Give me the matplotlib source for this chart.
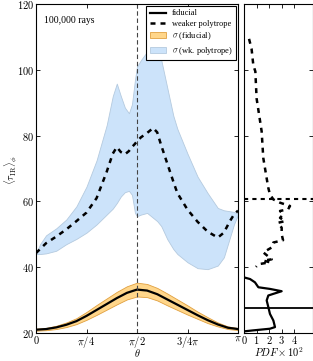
import numpy as np
import matplotlib
matplotlib.use("Agg")
import matplotlib.pyplot as plt
from matplotlib.patches import Patch
from matplotlib.lines import Line2D

plt.rcParams['font.family'] = 'serif'
plt.rcParams['font.serif'] = ['Liberation Serif', 'DejaVu Serif']
plt.rcParams['mathtext.fontset'] = 'cm'

# theta in units of pi
th_fid = [0, 0.05, 0.1, 0.15, 0.2, 0.25, 0.3, 0.35, 0.4, 0.45, 0.5,
          0.55, 0.6, 0.65, 0.7, 0.75, 0.8, 0.85, 0.9, 0.95, 1.0]
fid_mean = [21.0, 21.2, 21.7, 22.5, 23.6, 25.2, 27.0, 28.8, 30.6, 32.2, 33.2,
            32.9, 31.8, 30.2, 28.6, 27.0, 25.4, 23.9, 22.6, 21.6, 21.2]
fid_sig = [0.3, 0.35, 0.5, 0.7, 0.9, 1.2, 1.5, 1.7, 1.9, 2.0, 2.1,
           2.0, 1.9, 1.8, 1.6, 1.4, 1.1, 0.9, 0.6, 0.4, 0.3]

th_wk = [0, 0.02, 0.05, 0.1, 0.15, 0.2, 0.25, 0.3, 0.35, 0.38, 0.4, 0.42, 0.44,
         0.46, 0.475, 0.49, 0.5, 0.52, 0.55, 0.58, 0.6, 0.62, 0.65, 0.68, 0.7,
         0.75, 0.8, 0.85, 0.9, 0.93, 0.96, 0.98, 1.0]
wk_mean = [44.3, 45.5, 47.3, 49.3, 51.5, 54.0, 56.6, 61.0, 69.0, 74.5, 76.5, 75.0, 74.3,
           75.3, 76.5, 77.5, 78.3, 79.5, 80.8, 82.3, 81.0, 77.0, 71.5, 66.0, 62.5,
           57.5, 53.8, 50.8, 49.0, 50.5, 54.0, 56.0, 57.2]
wk_hi = [44.0, 47.0, 49.7, 51.8, 54.5, 58.5, 64.5, 72.5, 83.2, 92.0, 95.8, 92.0, 88.5,
         86.8, 89.5, 97.0, 101.0, 103.0, 105.5, 107.5, 107.0, 103.0, 94.5, 86.0, 82.0,
         74.5, 67.5, 62.5, 58.0, 57.3, 57.0, 56.8, 56.3]
wk_lo = [44.0, 44.0, 44.2, 45.0, 47.0, 48.6, 50.5, 53.0, 56.0, 57.8, 59.5, 61.5, 62.8,
         63.2, 62.0, 56.5, 55.5, 56.0, 56.5, 55.0, 54.0, 52.5, 48.5, 45.5, 44.0,
         41.5, 39.7, 39.4, 40.5, 43.0, 49.0, 53.0, 56.0]

# PDFs (x 10^2) against tau
pdf_fid_tau = [36.9, 36.4, 35.4, 33.9, 33.4, 32.7, 31.9, 31.4, 29.9, 27.9, 25.8,
               23.8, 21.8, 21.3, 20.8, 20.5]
pdf_fid = [0, 0.48, 0.87, 1.14, 2.06, 2.99, 2.33, 1.93, 1.8, 1.93, 2.06,
           2.33, 2.46, 2.06, 0.74, 0]
pdf_wk_tau = [109.4, 106.4, 101.4, 99.5, 91.3, 81.3, 73.2, 67.0, 64.1, 62.1, 60.6,
              59.6, 58.6, 57.6, 57.1, 56.0, 55.0, 54.0, 53.5, 52.0, 50.0, 48.2,
              47.5, 46.0, 44.5, 42.4, 42.0, 41.5, 40.9, 40.1]
pdf_wk = [0.4, 0.6, 0.74, 0.9, 1.0, 1.4, 1.53, 1.8, 1.93, 2.06, 2.33,
          2.86, 3.65, 3.5, 2.86, 3.1, 2.86, 3.25, 2.7, 2.99, 2.99, 3.1,
          2.33, 2.2, 1.53, 2.2, 1.53, 2.06, 1.14, 0.95]
mean_fid = 27.6
mean_wk = 60.8

orange = '#FFD68A'
orange_edge = '#E0A040'
blue = '#CCE3FA'
blue_edge = '#B4CADF'

fig = plt.figure(figsize=(3.13, 3.61), dpi=100)
ax = fig.add_axes([36 / 313, 1 - 333 / 361, 202 / 313, 329 / 361])
axr = fig.add_axes([244 / 313, 1 - 333 / 361, 69 / 313, 329 / 361])

x_fid = np.array(th_fid) * np.pi
x_wk = np.array(th_wk) * np.pi
fm = np.array(fid_mean)
fs = np.array(fid_sig)

ax.fill_between(x_wk, wk_lo, wk_hi, facecolor=blue, edgecolor=blue_edge, lw=0.6)
ax.fill_between(x_fid, fm - fs, fm + fs, facecolor=orange, edgecolor=orange_edge, lw=0.6)
ax.plot(x_fid, fm, color='black', lw=1.6)
ax.plot(x_wk, wk_mean, color='black', lw=1.8, dashes=(2, 2))
ax.axvline(np.pi / 2, color='#444444', lw=0.8, ls=(0, (4, 2.5)))

ax.set_xlim(0, np.pi)
ax.set_ylim(20, 120)
ax.set_xticks([0, np.pi / 4, np.pi / 2, 3 * np.pi / 4, np.pi])
ax.set_xticklabels(['$0$', r'$\pi/4$', r'$\pi/2$', r'$3/4\pi$', r'$\pi$'])
ax.set_yticks([20, 40, 60, 80, 100, 120])
ax.set_yticklabels(['$%d$' % v for v in [20, 40, 60, 80, 100, 120]])
ax.tick_params(direction='in', top=True, right=True, labelsize=7.5, length=3, width=0.6, pad=1.5)
ax.tick_params(axis='x', pad=1)
fig.text(137 / 313, 2 / 361, r'$\theta$', fontsize=7.5, ha='center', va='bottom')
fig.text(11 / 313, 1 - 170 / 361, r'$\langle\tau_{\rm IR}\rangle_\phi$', fontsize=7.5,
         rotation=90, ha='center', va='center')
ax.text(0.04, 0.965, '100,000 rays', transform=ax.transAxes, fontsize=7, va='top')

handles = [Line2D([], [], color='black', lw=1.6),
           Line2D([], [], color='black', lw=1.8, dashes=(2, 2)),
           Patch(facecolor=orange, edgecolor=orange_edge, lw=0.6),
           Patch(facecolor=blue, edgecolor=blue_edge, lw=0.6)]
labels = ['fiducial', 'weaker polytrope', r'$\sigma$ (fiducial)', r'$\sigma$ (wk. polytrope)']
leg = ax.legend(handles, labels, loc='upper right', fontsize=6, fancybox=False,
                framealpha=1, edgecolor='black', borderaxespad=0.25, handlelength=2.0,
                labelspacing=0.3, borderpad=0.4, handletextpad=0.7)
leg.get_frame().set_linewidth(0.8)

axr.plot(pdf_fid, pdf_fid_tau, color='black', lw=1.6)
axr.plot(pdf_wk, pdf_wk_tau, color='black', lw=1.8, dashes=(2, 2))
axr.axhline(mean_fid, color='black', lw=1.3)
axr.axhline(mean_wk, color='black', lw=1.5, dashes=(2, 2))
axr.set_xlim(0, 69 / 12.6)
axr.set_ylim(20, 120)
axr.set_xticks([0, 1, 2, 3, 4])
axr.set_xticklabels(['$%d$' % v for v in range(5)])
axr.set_yticks([20, 40, 60, 80, 100, 120])
axr.set_yticklabels([])
axr.tick_params(direction='in', top=True, right=True, labelsize=7.5, length=3, width=0.6, pad=1)
axr.set_xlabel(r'$PDF\times10^2$', fontsize=7.5, labelpad=-1)

fig.savefig('out.png', dpi=100)
